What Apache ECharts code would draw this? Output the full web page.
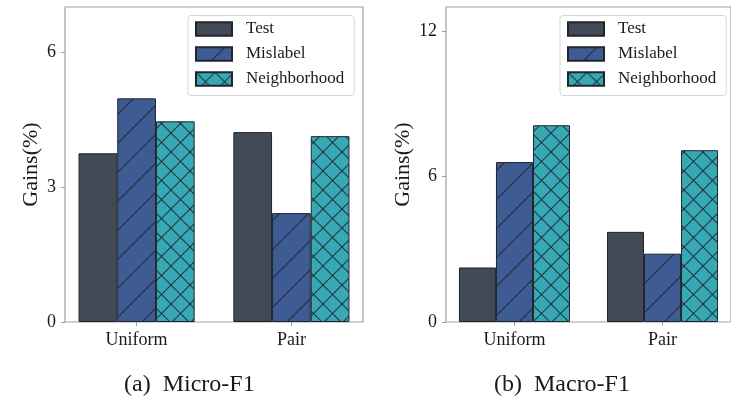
<!DOCTYPE html>
<html>
<head>
<meta charset="utf-8">
<script src="https://cdn.jsdelivr.net/npm/echarts@6/dist/echarts.min.js"></script>
<style>
html,body{margin:0;padding:0;background:#fff;}
#chart{width:731px;height:397px;}
</style>
</head>
<body>
<div id="chart"></div>
<script>
// ---- data ----
const categories = ['Uniform', 'Pair'];
const seriesNames = ['Test', 'Mislabel', 'Neighborhood'];
const microTest = [3.75, 4.22];
const microMislabel = [4.97, 2.42];
const microNeighborhood = [4.46, 4.13];
const macroTest = [2.25, 3.72];
const macroMislabel = [6.6, 2.82];
const macroNeighborhood = [8.12, 7.09];
const microTicks = [0, 3, 6];
const macroTicks = [0, 6, 12];
const subtitles = ['(a)  Micro-F1', '(b)  Macro-F1'];
const yName = 'Gains(%)';

// ---- styles ----
const FONT = "'Liberation Serif', 'Times New Roman', serif";
const C_TEST = '#434a57';
const C_MIS = '#3e5c93';
const C_NEI = '#36a9b4';
const HATCH = 'rgba(30,34,42,0.85)';
const FRAME = '#a0a0a0';

function makeHatch(bg, size, cross) {
  const c = document.createElement('canvas');
  c.width = size; c.height = size;
  const g = c.getContext('2d');
  g.fillStyle = bg; g.fillRect(0, 0, size, size);
  g.strokeStyle = HATCH; g.lineWidth = 1.1;
  const seg = (x1, y1, x2, y2) => { g.beginPath(); g.moveTo(x1, y1); g.lineTo(x2, y2); g.stroke(); };
  seg(-2, size + 2, size + 2, -2);
  seg(-2, 2, 2, -2);
  seg(size - 2, size + 2, size + 2, size - 2);
  if (cross) {
    seg(-2, -2, size + 2, size + 2);
    seg(size - 2, -2, size + 2, 2);
    seg(-2, size - 2, 2, size + 2);
  }
  return { image: c, repeat: 'repeat' };
}
const patMis = makeHatch(C_MIS, 29, false);
const patNei = makeHatch(C_NEI, 19, true);

const toPts = arr => arr.map((v, i) => [i, v]);

function barSeries(name, values, color, idx) {
  return {
    type: 'bar', name: name, xAxisIndex: idx, yAxisIndex: idx,
    data: toPts(values), barWidth: '25%', barGap: '0%',
    itemStyle: { color: color, borderColor: '#20242c', borderWidth: 1 },
    emphasis: { disabled: true }, animation: false
  };
}

const grids = [
  { left: 65, top: 7, width: 298, bottom: 75 },
  { left: 446, top: 7, right: -4, bottom: 75 }
];

function xAxisDef(idx) {
  return {
    type: 'value', gridIndex: idx, min: -0.4625, max: 1.4625, position: 'bottom',
    splitLine: { show: false },
    axisLine: { show: false, onZero: false },
    axisTick: { show: true, length: 4, lineStyle: { color: FRAME, width: 1 }, customValues: [0, 1] },
    axisLabel: { customValues: [0, 1], formatter: v => categories[Math.round(v)] || '',
      fontFamily: FONT, fontSize: 18, color: '#1a1a1a', margin: 9 }
  };
}
function yAxisDef(idx, max, ticks, gap) {
  return {
    type: 'value', gridIndex: idx, min: 0, max: max, position: 'left',
    splitLine: { show: false },
    axisLine: { show: false, onZero: false },
    axisTick: { show: true, length: 4, lineStyle: { color: FRAME, width: 1 }, customValues: ticks },
    axisLabel: { customValues: ticks, fontFamily: FONT, fontSize: 18, color: '#1a1a1a', margin: 9 },
    name: yName, nameLocation: 'middle', nameGap: gap,
    nameTextStyle: { fontFamily: FONT, fontSize: 22, color: '#1a1a1a' }
  };
}
function legendDef(left) {
  return {
    data: seriesNames, left: left, top: 15.5, orient: 'vertical',
    icon: 'rect', itemWidth: 36, itemHeight: 13.5, itemGap: 8,
    padding: [5, 10, 8, 7],
    backgroundColor: '#fff', borderColor: '#d6d6d6', borderWidth: 1, borderRadius: 3,
    selectedMode: false,
    textStyle: { fontFamily: FONT, fontSize: 17, color: '#1a1a1a', padding: [0, 0, 0, 9], lineHeight: 17 }
  };
}

const option = {
  backgroundColor: '#fff',
  animation: false,
  grid: grids.map(g => Object.assign({ show: true, borderColor: FRAME, borderWidth: 1.2, backgroundColor: 'transparent' }, g)),
  xAxis: [xAxisDef(0), xAxisDef(1)],
  yAxis: [yAxisDef(0, 7, microTicks, 23), yAxisDef(1, 13, macroTicks, 32)],
  legend: [legendDef(188), legendDef(560)],
  series: [
    barSeries(seriesNames[0], microTest, C_TEST, 0),
    barSeries(seriesNames[1], microMislabel, patMis, 0),
    barSeries(seriesNames[2], microNeighborhood, patNei, 0),
    barSeries(seriesNames[0], macroTest, C_TEST, 1),
    barSeries(seriesNames[1], macroMislabel, patMis, 1),
    barSeries(seriesNames[2], macroNeighborhood, patNei, 1)
  ],
  graphic: [
    { type: 'text', left: 124, top: 373, style: { text: subtitles[0], font: '24px ' + FONT, fill: '#1a1a1a' } },
    { type: 'text', left: 494, top: 373, style: { text: subtitles[1], font: '24px ' + FONT, fill: '#1a1a1a' } }
  ]
};

const chart = echarts.init(document.getElementById('chart'), null, { renderer: 'canvas' });
chart.setOption(option);
</script>
</body>
</html>
